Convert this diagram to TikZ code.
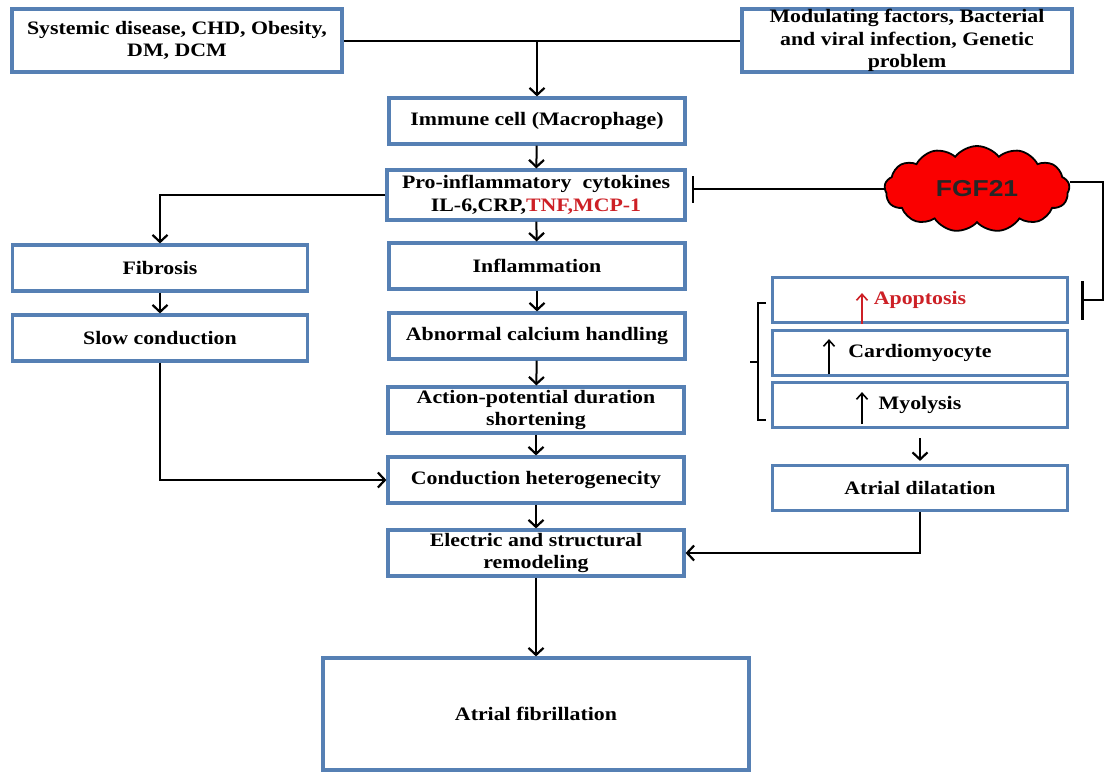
\documentclass[tikz,border=0pt]{standalone}
\usepackage{fontspec}
\setmainfont{Liberation Serif}[FakeStretch=1.15]
\newfontfamily\fgffont{Liberation Sans}[FakeStretch=1.15]
\usetikzlibrary{arrows.meta,shapes.symbols,calc}
\definecolor{boxblue}{RGB}{86,128,180}
\definecolor{txtred}{RGB}{205,32,38}
\definecolor{cloudred}{RGB}{250,0,0}

\begin{document}
\begin{tikzpicture}[x=1pt,y=-1pt]
\tikzstyle{box}=[draw=boxblue,line width=3.2pt,fill=white,inner sep=0pt,align=center,font=\fontsize{19}{22.5}\selectfont\bfseries,minimum width=296pt,minimum height=46pt]
\tikzstyle{link}=[line width=2pt]
\tikzstyle{flow}=[link,-{Straight Barb[length=7pt,width=15pt,line width=2.2pt]}]
\tikzstyle{inhib}=[link,-{Bar[width=27pt,line width=2.4pt]}]
\tikzstyle{uparrow}=[line width=1.6pt,-{Straight Barb[length=6pt,width=11pt]}]
\useasboundingbox (0,0) rectangle (1107,772);
\node[box,minimum width=330pt,minimum height=63pt] (sys) at (177,40.5) {Systemic disease, CHD, Obesity,\\DM, DCM};
\node[box,minimum width=330pt,minimum height=63pt] (mod) at (907,40.5) {Modulating factors, Bacterial\\and viral infection, Genetic\\problem};
\node[box] (imm) at (537,121) {Immune cell (Macrophage)};
\node[box,minimum width=298pt,minimum height=50pt] (pro) at (536,195) {\makebox[268pt][s]{Pro-inflammatory cytokines}\\IL-6,CRP,\textcolor{txtred}{TNF,MCP-1}};
\node[box] (infl) at (537,266) {Inflammation};
\node[box] (calc) at (537,336) {Abnormal calcium handling};
\node[box] (apd) at (536,410) {Action-potential duration\\shortening};
\node[box] (cond) at (536,480) {Conduction heterogenecity};
\node[box] (elec) at (536,553) {Electric and structural\\remodeling};
\node[box,minimum width=426pt,minimum height=112pt] (af) at (536,714) {Atrial fibrillation};
\node[box,minimum width=295pt] (fib) at (160,268) {Fibrosis};
\node[box,minimum width=295pt] (slow) at (160,338) {Slow conduction};
\node[box,minimum width=295pt,minimum height=45pt] (apop) at (920,300) {\textcolor{txtred}{Apoptosis}};
\node[box,minimum width=295pt,minimum height=45pt] (card) at (920,353) {Cardiomyocyte};
\node[box,minimum width=295pt,minimum height=45pt] (myo) at (920,405) {Myolysis};
\node[box,minimum width=295pt,minimum height=45pt] (dil) at (920,488) {Atrial dilatation};
\node[cloud,cloud puffs=13,cloud puff arc=105,aspect=2.2,draw=black,line width=1.8pt,fill=cloudred,minimum width=185pt,minimum height=86pt,inner sep=0pt,font=\fgffont\bfseries\fontsize{23}{26}\selectfont,text=black!85] (fgf) at (977,189) {FGF21};
\coordinate (top) at (sys.east -| imm.north);
\coordinate (fgfr) at (1103,182);
\draw[link] (sys.east) -- (mod.west);
\draw[flow] (top) -- (imm.north);
\draw[flow] (imm) -- (pro);
\draw[flow] (pro) -- (infl);
\draw[flow] (infl) -- (calc);
\draw[flow] (calc) -- (apd);
\draw[flow] (apd) -- (cond);
\draw[flow] (cond) -- (elec);
\draw[flow] (elec) -- (af);
\draw[flow] (pro.west) -| (fib.north);
\draw[flow] (fib) -- (slow);
\draw[flow] (slow.south) |- (cond.west);
\draw[flow,shorten <=9pt,shorten >=3pt] (myo) -- (dil);
\draw[flow] (dil.south) |- (elec.east);
\draw[inhib,shorten >=5pt] (fgf.west) -- (fgf.west -| pro.east);
\draw[link,-{Bar[width=39pt,line width=2.4pt]},shorten >=12pt] (fgf.east |- fgfr) -- (fgfr) |- (apop.east);
\draw[uparrow,txtred] ([xshift=-58pt]apop.south) -- ++(0,-31);
\draw[uparrow] ([xshift=-91pt,yshift=3pt]card.south) -- ++(0,-35);
\draw[uparrow] ([xshift=-58pt,yshift=5pt]myo.south) -- ++(0,-32);
\draw[line width=1.8pt] (766,303) -- (758,303) -- (758,420) -- (766,420);
\draw[line width=1.8pt] (758,362) -- (750,362);
\end{tikzpicture}
\end{document}
